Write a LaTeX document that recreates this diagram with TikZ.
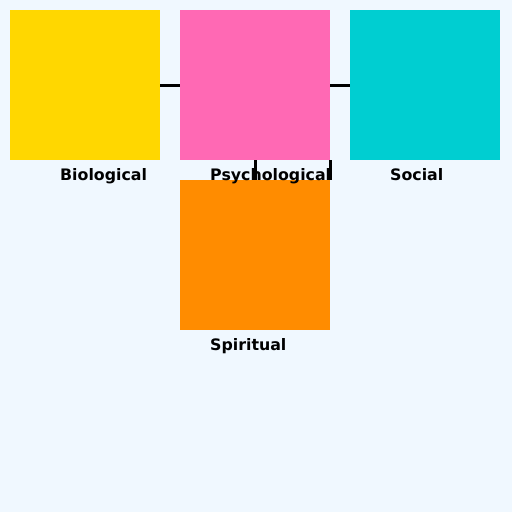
\documentclass[tikz,border=0pt]{standalone}
\usepackage{fontspec}
\setmainfont{DejaVu Sans}
\definecolor{bg}{HTML}{F0F8FF}
\definecolor{cgold}{HTML}{FFD700}
\definecolor{cpink}{HTML}{FF69B4}
\definecolor{ccyan}{HTML}{00CED1}
\definecolor{corange}{HTML}{FF8C00}
\begin{document}
\begin{tikzpicture}[x=1pt,y=-1pt,
  sq/.style={minimum size=150pt,inner sep=0pt,outer sep=0pt,draw=none},
  lab/.style={anchor=base west,inner sep=0pt,font=\bfseries\fontsize{15.8}{18}\selectfont},
  link/.style={line width=3pt,black}]
\fill[bg] (0,0) rectangle (512,512);
\useasboundingbox (0,0) rectangle (512,512);
\coordinate (c1) at (255,160);
\coordinate (c2) at (255,180);
\coordinate (c3) at (330,160);
\coordinate (c4) at (330,180);
\coordinate (h1) at (160,85);
\coordinate (h2) at (180,85);
\coordinate (h3) at (330,85);
\coordinate (h4) at (350,85);
\draw[link] (h1) -- (h2);
\draw[link] (h3) -- (h4);
\draw[link] (c1) -- (c2);
\draw[link] (c3) -- (c4);
\node[sq,fill=cgold] (bio) at (85,85) {};
\node[sq,fill=cpink] (psy) at (255,85) {};
\node[sq,fill=ccyan] (soc) at (425,85) {};
\node[sq,fill=corange] (spi) at (255,255) {};
\node[lab] (lbio) at (60,180) {Biological};
\node[lab] (lpsy) at (210,180) {Psychological};
\node[lab] (lsoc) at (390,180) {Social};
\node[lab] (lspi) at (210,350) {Spiritual};
\end{tikzpicture}
\end{document}
